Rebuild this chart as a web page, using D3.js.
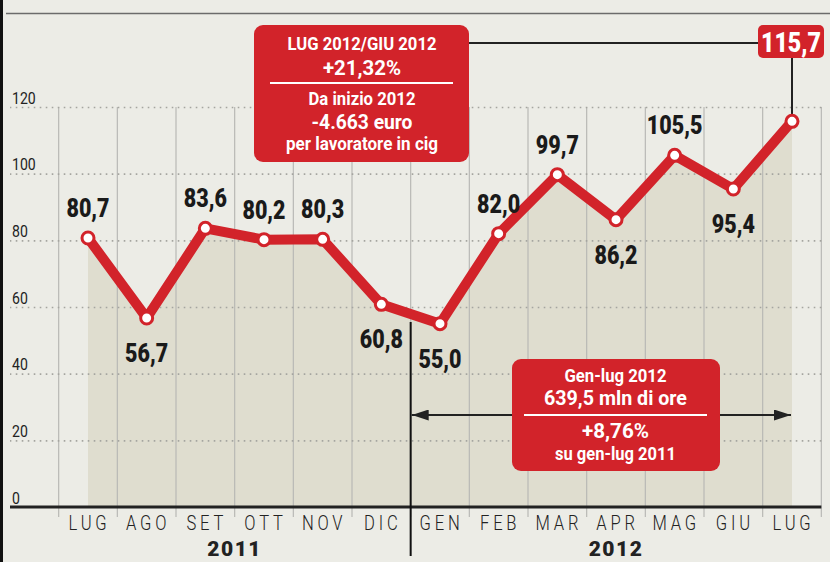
<!DOCTYPE html>
<html>
<head>
<meta charset="utf-8">
<script src="https://cdn.jsdelivr.net/npm/d3@7"></script>
<style>
  body { margin: 0; background: #ecece6; }
  svg { display: block; }
</style>
</head>
<body>
<svg width="830" height="562"></svg>
<script>
// Data
let months = ['LUG', 'AGO', 'SET', 'OTT', 'NOV', 'DIC', 'GEN', 'FEB', 'MAR', 'APR', 'MAG', 'GIU', 'LUG']
let values = [80.7, 56.7, 83.6, 80.2, 80.3, 60.8, 55.0, 82.0, 99.7, 86.2, 105.5, 95.4, 115.7]
let valueLabels = ['80,7', '56,7', '83,6', '80,2', '80,3', '60,8', '55,0', '82,0', '99,7', '86,2', '105,5', '95,4', '115,7']
let labelSide = ['up', 'down', 'up', 'up', 'up', 'down', 'down', 'up', 'up', 'down', 'up', 'down', 'box']
let yTicks = [0, 20, 40, 60, 80, 100, 120]
let years = ['2011', '2012']
let topBox = ['LUG 2012/GIU 2012', '+21,32%', 'Da inizio 2012', '-4.663 euro', 'per lavoratore in cig']
let bottomBox = ['Gen-lug 2012', '639,5 mln di ore', '+8,76%', 'su gen-lug 2011']

// Layout for the box texts (baseline, width, size)
let topLayout = [[50, 149, 19], [75, 78, 20], [105, 107, 19], [129, 101, 20], [150, 152, 18]]
let botLayout = [[382, 102, 19], [405, 143, 20], [438, 67, 20], [460, 121, 18]]

let red = '#d2232a'
let font = 'Roboto, "Liberation Sans", sans-serif'

let svg = d3.select('svg')
let keys = months.map((m, i) => i)

// Scales
let scale = {
    x: d3.scalePoint().domain(keys).range([88, 792]),
    y: d3.scaleLinear().domain([0, 120]).range([507, 107])
}
let step = scale.x.step()
let left = scale.x(0) - step / 2
let right = scale.x(keys.length - 1) + step / 2

// Helper: condensed text
function ctext(g, x, y, txt, size, weight, sx, anchor) {
    return g.append('text')
        .attr('transform', `translate(${x},${y}) scale(${sx},1)`)
        .attr('text-anchor', anchor || 'middle')
        .attr('font-family', font).attr('font-size', size).attr('font-weight', weight)
        .text(txt)
}

// Frame
svg.append('rect').attr('width', 830).attr('height', 562).attr('fill', '#ecece6')
svg.append('rect').attr('width', 3).attr('height', 562).attr('fill', '#111')
svg.append('line').attr('x1', 6).attr('x2', 830).attr('y1', 13.5).attr('y2', 13.5)
    .attr('stroke', '#6b6b6b').attr('stroke-width', 1.5)

// Area
let area = d3.area()
    .x((d, i) => scale.x(i))
    .y0(scale.y(0))
    .y1(d => scale.y(d))
svg.append('path').datum(values).attr('d', area).attr('fill', '#dfddcf')

// Vertical column lines
let bounds = d3.range(keys.length + 1).map(i => left + i * step)
svg.selectAll('.vline').data(bounds).enter().append('line')
    .attr('class', 'vline')
    .attr('x1', d => d).attr('x2', d => d)
    .attr('y1', scale.y(120)).attr('y2', scale.y(0) + 10)
    .attr('stroke', '#b9b9b5').attr('stroke-width', 1.2)

// Horizontal dotted grid
svg.append('g')
    .attr('transform', `translate(${right},0)`)
    .call(d3.axisRight(scale.y).tickValues(yTicks.slice(1)).tickFormat('').tickSize(-(right - 10)))
    .call(g => g.select('.domain').remove())
    .call(g => g.selectAll('line').attr('stroke', '#a5a5a0').attr('stroke-width', 1.6).attr('stroke-dasharray', '1.6,4.4'))

// Y tick labels
let yl = svg.append('g').attr('fill', '#222')
yTicks.forEach(d => ctext(yl, 12, scale.y(d) - 3.5, d, 16, 400, 0.88, 'start'))

// Baseline
svg.append('line').attr('x1', 10).attr('x2', right).attr('y1', scale.y(0)).attr('y2', scale.y(0))
    .attr('stroke', '#222').attr('stroke-width', 3)

// Year divider
let divX = left + 6 * step
svg.append('line').attr('x1', divX).attr('x2', divX).attr('y1', 322).attr('y2', 556)
    .attr('stroke', '#111').attr('stroke-width', 2)

// Month labels
let ml = svg.append('g').attr('fill', '#222')
months.forEach((m, i) => ctext(ml, scale.x(i) + 1.5, 530, m, 19.5, 300, 0.85).attr('letter-spacing', 4.5))

// Year labels
let yearCenters = [(left + divX) / 2, (divX + right) / 2]
let yg = svg.append('g').attr('fill', '#222')
years.forEach((y, i) => ctext(yg, yearCenters[i], 556, y, 21, 900, 1).attr('letter-spacing', 1.5))

// Line
let line = d3.line().x((d, i) => scale.x(i)).y(d => scale.y(d))
svg.append('path').datum(values).attr('d', line)
    .attr('fill', 'none').attr('stroke', red).attr('stroke-width', 10).attr('stroke-linejoin', 'round')

// Connector to last value box
let lastX = scale.x(keys.length - 1)
let lastY = scale.y(values[values.length - 1])
svg.append('line').attr('x1', lastX).attr('x2', lastX).attr('y1', 50).attr('y2', lastY)
    .attr('stroke', '#222').attr('stroke-width', 2)
svg.append('line').attr('x1', 460).attr('x2', 760).attr('y1', 43).attr('y2', 43)
    .attr('stroke', '#222').attr('stroke-width', 2)

// Points
svg.selectAll('.pt').data(values).enter().append('circle')
    .attr('cx', (d, i) => scale.x(i)).attr('cy', d => scale.y(d))
    .attr('r', 6).attr('fill', '#fff').attr('stroke', red).attr('stroke-width', 3)

// Value labels
let vl = svg.append('g').attr('fill', '#1a1a1a')
values.forEach((d, i) => {
    if (labelSide[i] === 'box') return
    let y = scale.y(d) + (labelSide[i] === 'up' ? -21 : 44)
    ctext(vl, scale.x(i), y, valueLabels[i], 25, 900, 0.86)
})

// Last value box
svg.append('rect').attr('x', 758).attr('y', 25).attr('width', 66).attr('height', 33).attr('rx', 5)
    .attr('fill', red)
ctext(svg, 791, 52, valueLabels[valueLabels.length - 1], 27, 900, 0.86).attr('fill', '#fff')

// Top info box
svg.append('rect').attr('x', 254).attr('y', 25).attr('width', 215).attr('height', 137).attr('rx', 9)
    .attr('fill', red)
topBox.forEach((t, i) => {
    svg.append('text')
        .attr('x', 362 - topLayout[i][1] / 2).attr('y', topLayout[i][0])
        .attr('textLength', topLayout[i][1]).attr('lengthAdjust', 'spacingAndGlyphs')
        .attr('font-family', font).attr('font-weight', 700)
        .attr('font-size', topLayout[i][2]).attr('fill', '#fff')
        .text(t)
})
svg.append('line').attr('x1', 270).attr('x2', 453).attr('y1', 83).attr('y2', 83)
    .attr('stroke', '#fff').attr('stroke-width', 2)

// Bottom arrow
svg.append('defs').append('marker')
    .attr('id', 'arr').attr('viewBox', '0 0 10 10').attr('refX', 10).attr('refY', 5)
    .attr('markerUnits', 'userSpaceOnUse')
    .attr('markerWidth', 17).attr('markerHeight', 11).attr('orient', 'auto-start-reverse')
    .attr('preserveAspectRatio', 'none')
    .append('path').attr('d', 'M0,0 L10,5 L0,10 Z').attr('fill', '#222')
svg.append('line').attr('x1', divX + 1).attr('x2', lastX - 1).attr('y1', 415).attr('y2', 415)
    .attr('stroke', '#222').attr('stroke-width', 2)
    .attr('marker-start', 'url(#arr)').attr('marker-end', 'url(#arr)')

// Bottom info box
svg.append('rect').attr('x', 512).attr('y', 359).attr('width', 208).attr('height', 112).attr('rx', 9)
    .attr('fill', red)
bottomBox.forEach((t, i) => {
    svg.append('text')
        .attr('x', 615.5 - botLayout[i][1] / 2).attr('y', botLayout[i][0])
        .attr('textLength', botLayout[i][1]).attr('lengthAdjust', 'spacingAndGlyphs')
        .attr('font-family', font).attr('font-weight', 700)
        .attr('font-size', botLayout[i][2]).attr('fill', '#fff')
        .text(t)
})
svg.append('line').attr('x1', 524).attr('x2', 707).attr('y1', 415).attr('y2', 415)
    .attr('stroke', '#fff').attr('stroke-width', 2)
</script>
</body>
</html>
